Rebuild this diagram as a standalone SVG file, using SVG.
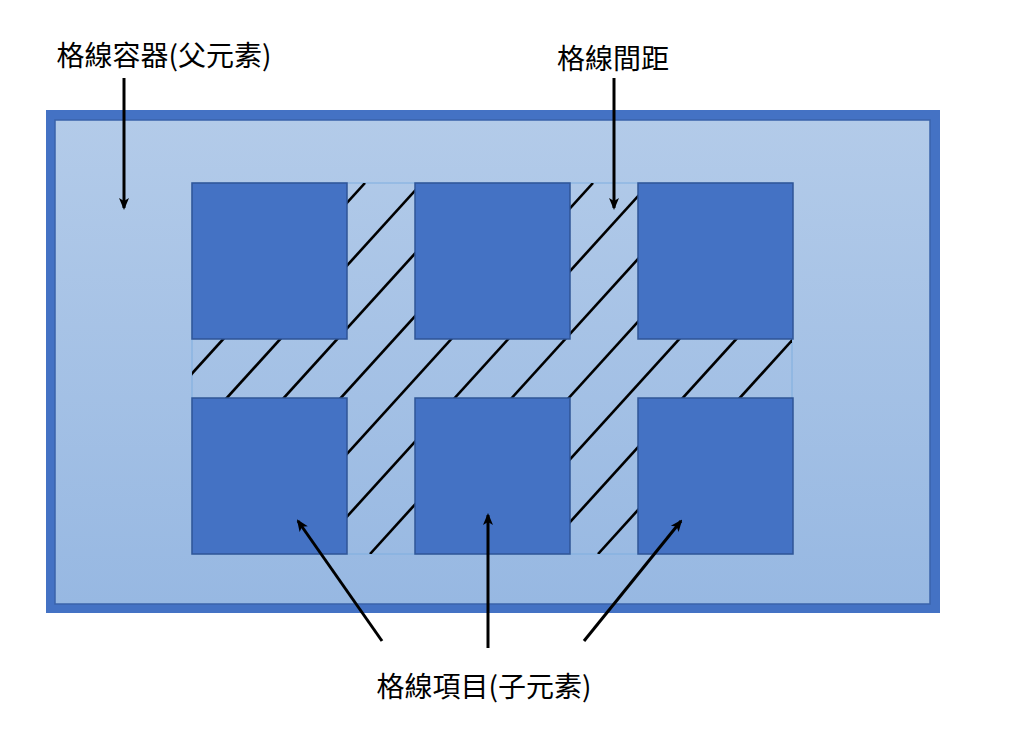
<svg xmlns="http://www.w3.org/2000/svg" width="1024" height="735" viewBox="0 0 1024 735">
<style>
.lbl{font-family:"Noto Sans CJK TC","Noto Sans CJK SC",sans-serif;font-size:28px;fill:#000;text-anchor:middle}
.item{fill:#4472C4;stroke:#2F5597;stroke-width:1.5}
.hatch line{stroke:#000;stroke-width:2.6}
.arr{stroke:#000;stroke-width:3;fill:none;marker-end:url(#ah)}
</style>
<defs>
<linearGradient id="bg" x1="0" y1="0" x2="0" y2="1">
<stop offset="0" stop-color="#B3CBE9"/>
<stop offset="1" stop-color="#97B8E2"/>
</linearGradient>
<clipPath id="gc"><rect x="192" y="183" width="600" height="371"/></clipPath>
<marker id="ah" markerWidth="12" markerHeight="12" refX="10" refY="5" orient="auto" markerUnits="userSpaceOnUse" viewBox="0 0 12 10">
<path d="M0,0 L12,5 L0,10 L3,5 Z" fill="#000"/>
</marker>
</defs>
<rect width="1024" height="735" fill="#fff"/>
<g id="container">
<rect x="46" y="110" width="894" height="503" fill="#4472C4"/>
<rect x="55" y="120" width="875" height="484" fill="url(#bg)" stroke="#3A63AA" stroke-width="1.5"/>
</g>
<g id="gap">
<rect x="192" y="183" width="600" height="371" fill="none" stroke="#7FAEDF" stroke-width="1"/>
<g class="hatch" clip-path="url(#gc)">
<line x1="-143" y1="554" x2="194" y2="183"/>
<line x1="-86" y1="554" x2="251" y2="183"/>
<line x1="-29" y1="554" x2="308" y2="183"/>
<line x1="28" y1="554" x2="365" y2="183"/>
<line x1="85" y1="554" x2="422" y2="183"/>
<line x1="142" y1="554" x2="479" y2="183"/>
<line x1="199" y1="554" x2="536" y2="183"/>
<line x1="256" y1="554" x2="593" y2="183"/>
<line x1="313" y1="554" x2="650" y2="183"/>
<line x1="370" y1="554" x2="707" y2="183"/>
<line x1="427" y1="554" x2="764" y2="183"/>
<line x1="484" y1="554" x2="821" y2="183"/>
<line x1="541" y1="554" x2="878" y2="183"/>
<line x1="598" y1="554" x2="935" y2="183"/>
<line x1="655" y1="554" x2="992" y2="183"/>
<line x1="712" y1="554" x2="1049" y2="183"/>
<line x1="769" y1="554" x2="1106" y2="183"/>
</g>
</g>
<g id="item1"><rect class="item" x="192" y="183" width="155" height="156"/></g>
<g id="item2"><rect class="item" x="415" y="183" width="155" height="156"/></g>
<g id="item3"><rect class="item" x="638" y="183" width="155" height="156"/></g>
<g id="item4"><rect class="item" x="192" y="398" width="155" height="156"/></g>
<g id="item5"><rect class="item" x="415" y="398" width="155" height="156"/></g>
<g id="item6"><rect class="item" x="638" y="398" width="155" height="156"/></g>
<g id="connectors">
<line class="arr" x1="124" y1="78" x2="124" y2="208"/>
<line class="arr" x1="614" y1="78" x2="614" y2="208"/>
<line class="arr" x1="382" y1="641" x2="298" y2="521"/>
<line class="arr" x1="488" y1="648" x2="488" y2="515"/>
<line class="arr" x1="584" y1="641" x2="681" y2="521"/>
</g>
<g id="label-container"><text class="lbl" x="164" y="66">格線容器(父元素)</text></g>
<g id="label-gap"><text class="lbl" x="613" y="69">格線間距</text></g>
<g id="label-items"><text class="lbl" x="484" y="697">格線項目(子元素)</text></g>
</svg>
